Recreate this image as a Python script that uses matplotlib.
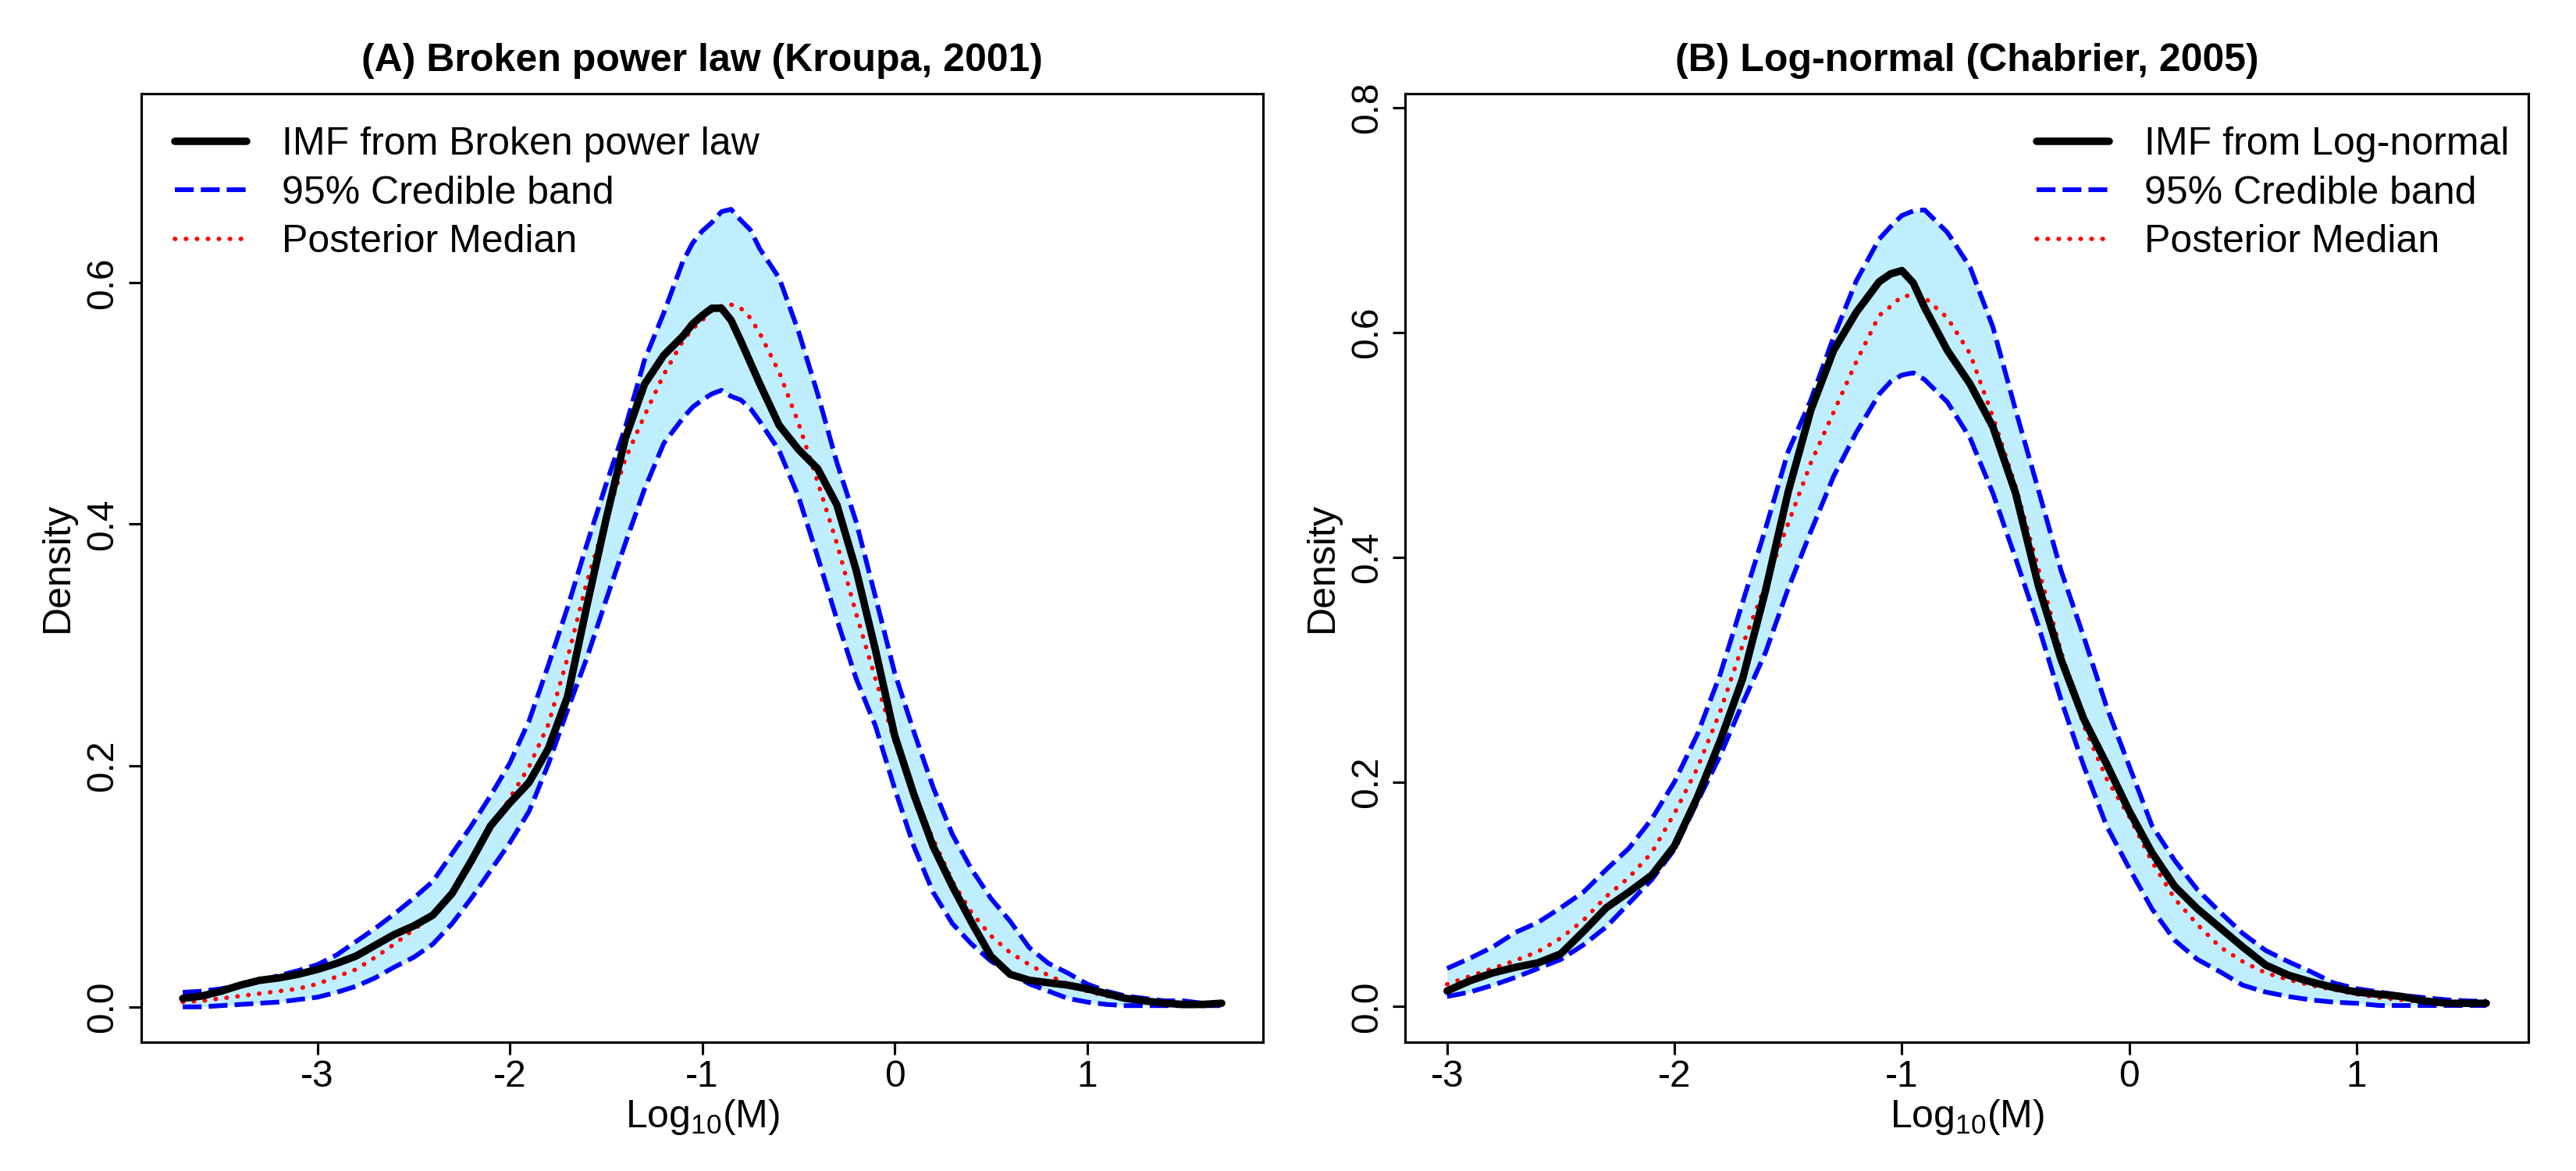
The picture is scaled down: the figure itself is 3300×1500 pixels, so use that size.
import matplotlib.pyplot as plt

plt.rcParams["font.family"] = ["Liberation Sans", "DejaVu Sans"]
plt.rcParams["mathtext.fontset"] = "custom"
plt.rcParams["mathtext.rm"] = "Liberation Sans"
plt.rcParams["mathtext.it"] = "Liberation Sans:italic"

# ------------------------------------------------------------------------------
# (A) broken power law

x_a = [-3.7, -3.6, -3.5, -3.4, -3.3, -3.2, -3.1, -3.0, -2.9, -2.8,
       -2.7, -2.6, -2.5, -2.4, -2.3, -2.2, -2.1, -2.0, -1.9, -1.8,
       -1.7, -1.6, -1.5, -1.4, -1.3, -1.2, -1.1, -1.05, -1.0, -0.95,
       -0.9, -0.85, -0.8, -0.75, -0.7, -0.6, -0.5, -0.4, -0.3, -0.2,
       -0.1, 0.0, 0.1, 0.2, 0.3, 0.4, 0.5, 0.6, 0.7, 0.8,
       0.9, 1.0, 1.1, 1.2, 1.3, 1.4, 1.5, 1.6, 1.7]
imf_a = [0.007, 0.009, 0.013, 0.018, 0.022, 0.024, 0.027, 0.031, 0.036, 0.042,
         0.051, 0.060, 0.067, 0.076, 0.094, 0.121, 0.150, 0.169, 0.186, 0.214,
         0.257, 0.332, 0.404, 0.471, 0.516, 0.540, 0.556, 0.566, 0.573, 0.579,
         0.579, 0.569, 0.552, 0.534, 0.516, 0.482, 0.462, 0.446, 0.416, 0.362,
         0.296, 0.225, 0.176, 0.133, 0.100, 0.070, 0.042, 0.027, 0.022, 0.020,
         0.018, 0.015, 0.011, 0.007, 0.005, 0.003, 0.002, 0.002, 0.003]
upper_a = [0.012, 0.013, 0.015, 0.018, 0.021, 0.026, 0.030, 0.035, 0.043, 0.054,
           0.065, 0.077, 0.090, 0.104, 0.127, 0.150, 0.175, 0.202, 0.237, 0.283,
           0.331, 0.383, 0.433, 0.480, 0.536, 0.575, 0.618, 0.633, 0.643, 0.650,
           0.659, 0.661, 0.652, 0.644, 0.628, 0.604, 0.560, 0.508, 0.451, 0.402,
           0.340, 0.277, 0.228, 0.182, 0.143, 0.114, 0.090, 0.071, 0.049, 0.036,
           0.028, 0.019, 0.013, 0.009, 0.007, 0.005, 0.005, 0.003, 0.003]
lower_a = [0.000, 0.000, 0.001, 0.002, 0.003, 0.004, 0.006, 0.008, 0.012, 0.017,
           0.024, 0.033, 0.041, 0.052, 0.069, 0.090, 0.113, 0.136, 0.162, 0.201,
           0.246, 0.289, 0.337, 0.384, 0.429, 0.467, 0.488, 0.497, 0.503, 0.508,
           0.511, 0.506, 0.503, 0.496, 0.485, 0.461, 0.423, 0.373, 0.321, 0.272,
           0.233, 0.181, 0.133, 0.095, 0.069, 0.052, 0.038, 0.028, 0.019, 0.013,
           0.007, 0.004, 0.002, 0.001, 0.001, 0.001, 0.001, 0.001, 0.001]
median_a = [0.004, 0.005, 0.007, 0.009, 0.011, 0.013, 0.015, 0.019, 0.025, 0.031,
            0.041, 0.052, 0.064, 0.075, 0.095, 0.120, 0.147, 0.173, 0.199, 0.234,
            0.289, 0.352, 0.404, 0.454, 0.490, 0.524, 0.552, 0.562, 0.569, 0.577,
            0.581, 0.582, 0.579, 0.571, 0.558, 0.526, 0.484, 0.435, 0.384, 0.326,
            0.272, 0.220, 0.176, 0.139, 0.104, 0.078, 0.059, 0.045, 0.035, 0.026,
            0.019, 0.013, 0.009, 0.007, 0.005, 0.004, 0.003, 0.003, 0.002]

# (B) log-normal

x_b = [-3.0, -2.9, -2.8, -2.7, -2.6, -2.5, -2.4, -2.3, -2.2, -2.1,
       -2.0, -1.9, -1.8, -1.7, -1.6, -1.5, -1.4, -1.3, -1.2, -1.1,
       -1.05, -1.0, -0.95, -0.9, -0.8, -0.7, -0.6, -0.5, -0.4, -0.3,
       -0.2, -0.1, 0.0, 0.1, 0.2, 0.3, 0.4, 0.5, 0.6, 0.7,
       0.8, 0.9, 1.0, 1.1, 1.2, 1.3, 1.4, 1.5, 1.57]
imf_b = [0.014, 0.023, 0.030, 0.035, 0.039, 0.047, 0.067, 0.088, 0.102, 0.117,
         0.143, 0.186, 0.236, 0.292, 0.370, 0.458, 0.531, 0.584, 0.618, 0.645,
         0.652, 0.655, 0.644, 0.622, 0.584, 0.554, 0.516, 0.457, 0.375, 0.309,
         0.256, 0.216, 0.174, 0.137, 0.107, 0.087, 0.070, 0.053, 0.037, 0.028,
         0.022, 0.017, 0.013, 0.011, 0.009, 0.005, 0.003, 0.003, 0.003]
upper_b = [0.034, 0.043, 0.053, 0.066, 0.075, 0.088, 0.102, 0.122, 0.141, 0.167,
           0.200, 0.242, 0.295, 0.360, 0.425, 0.494, 0.540, 0.596, 0.646, 0.683,
           0.694, 0.704, 0.708, 0.709, 0.689, 0.658, 0.605, 0.531, 0.460, 0.388,
           0.329, 0.267, 0.214, 0.161, 0.130, 0.104, 0.084, 0.065, 0.050, 0.040,
           0.031, 0.021, 0.016, 0.013, 0.010, 0.008, 0.006, 0.005, 0.005]
lower_b = [0.009, 0.013, 0.019, 0.026, 0.034, 0.042, 0.055, 0.071, 0.092, 0.113,
           0.140, 0.182, 0.223, 0.270, 0.315, 0.372, 0.423, 0.472, 0.511, 0.545,
           0.556, 0.562, 0.564, 0.558, 0.538, 0.506, 0.457, 0.399, 0.339, 0.273,
           0.214, 0.161, 0.123, 0.087, 0.059, 0.042, 0.031, 0.019, 0.013, 0.009,
           0.006, 0.004, 0.003, 0.001, 0.001, 0.001, 0.001, 0.001, 0.001]
median_b = [0.020, 0.027, 0.034, 0.041, 0.049, 0.061, 0.077, 0.098, 0.115, 0.137,
            0.172, 0.212, 0.262, 0.322, 0.375, 0.430, 0.484, 0.529, 0.574, 0.615,
            0.623, 0.632, 0.633, 0.631, 0.613, 0.581, 0.525, 0.463, 0.390, 0.316,
            0.250, 0.203, 0.169, 0.129, 0.096, 0.073, 0.053, 0.040, 0.030, 0.024,
            0.019, 0.015, 0.011, 0.008, 0.006, 0.004, 0.003, 0.003, 0.003]

# ------------------------------------------------------------------------------

def panel(ax, x, imf, lo, hi, med, title, name, loc, anchor, xlim, ylim, yticks):
  ax.fill_between(x, lo, hi, color="#BFEFFF", lw=0, zorder=1)
  ax.plot(x, imf, color="k", lw=2.3, solid_capstyle="round", solid_joinstyle="round",
          zorder=4, label=name)
  dash = (0, (4.0, 1.5))
  ax.plot(x, hi, color="#0000FF", lw=1.45, ls=dash, zorder=2, label="95% Credible band")
  ax.plot(x, lo, color="#0000FF", lw=1.45, ls=dash, zorder=2)
  ax.plot(x, med, color="#FF0000", lw=1.35, ls=(0, (0.1, 2.4)), dash_capstyle="round",
          zorder=3, label="Posterior Median")

  ax.set_xlim(*xlim)
  ax.set_ylim(*ylim)
  ax.set_xticks([-3, -2, -1, 0, 1])
  ax.set_xticklabels(["-3", "-2", "-1", "0", "1"])
  ax.set_yticks(yticks)
  ax.set_yticklabels(["%.1f" % t for t in yticks], rotation=90, va="center")
  ax.tick_params(direction="out", length=3.8, width=0.75, labelsize=11.5)
  ax.tick_params(axis="x", pad=1.5)
  ax.tick_params(axis="y", pad=2.5)
  for s in ax.spines.values():
    s.set_linewidth(0.75)

  ax.set_title(title, fontsize=12, fontweight="bold", pad=7)
  ax.set_xlabel(r"Log$_{10}$(M)", fontsize=12, labelpad=1)
  ax.set_ylabel("Density", fontsize=12, labelpad=3)

  ax.legend(loc=loc, bbox_to_anchor=anchor, frameon=False, fontsize=12,
            handlelength=1.85, handletextpad=0.9, labelspacing=0.33,
            borderpad=0, borderaxespad=0)


fig = plt.figure(figsize=(11, 5), dpi=300)
ax1 = fig.add_axes([0.0548, 0.1103, 0.4356, 0.8099])
ax2 = fig.add_axes([0.5456, 0.1103, 0.4359, 0.8099])

panel(ax1, x_a, imf_a, lower_a, upper_a, median_a,
      "(A) Broken power law (Kroupa, 2001)", "IMF from Broken power law",
      "upper left", (0.030, 0.965), (-3.916, 1.916), (-0.029, 0.757),
      [0.0, 0.2, 0.4, 0.6])
panel(ax2, x_b, imf_b, lower_b, upper_b, median_b,
      "(B) Log-normal (Chabrier, 2005)", "IMF from Log-normal",
      "upper right", (0.983, 0.965), (-3.183, 1.755), (-0.0313, 0.8126),
      [0.0, 0.2, 0.4, 0.6, 0.8])

fig.savefig("out.png", dpi=300)
